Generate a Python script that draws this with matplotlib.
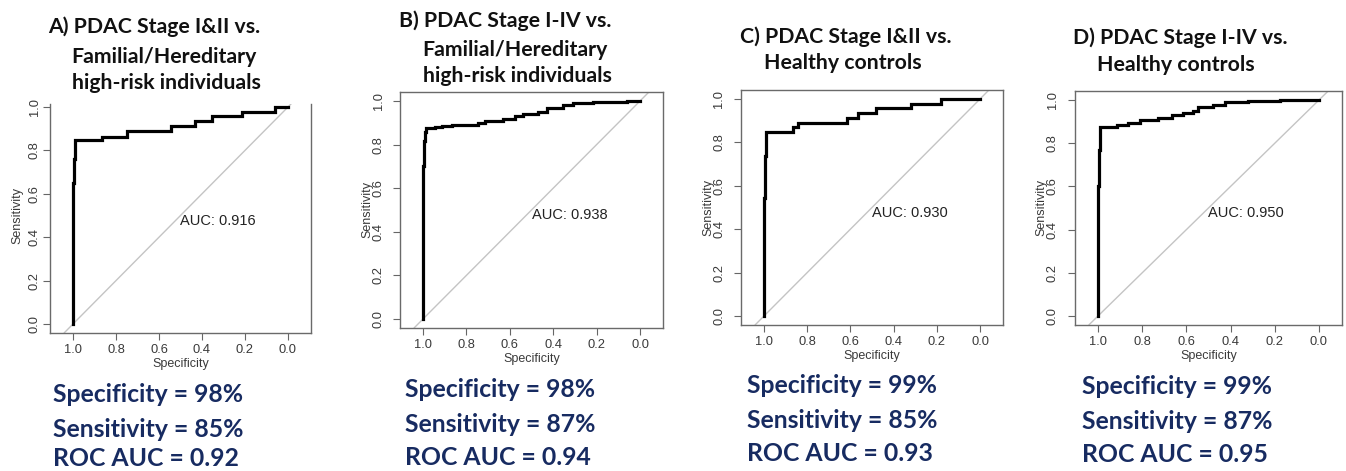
import matplotlib
matplotlib.use("Agg")
import matplotlib.pyplot as plt

# ---------------- data ----------------
titles = [
    ["A) PDAC Stage I&II vs.", "Familial/Hereditary", "high-risk individuals"],
    ["B) PDAC Stage I-IV vs.", "Familial/Hereditary", "high-risk individuals"],
    ["C) PDAC Stage I&II vs.", "Healthy controls"],
    ["D) PDAC Stage I-IV vs.", "Healthy controls"],
]
auc_labels = ["AUC: 0.916", "AUC: 0.938", "AUC: 0.930", "AUC: 0.950"]
summary_specificity = ["98%", "98%", "99%", "99%"]
summary_sensitivity = ["85%", "87%", "85%", "87%"]
summary_auc = ["0.92", "0.94", "0.93", "0.95"]

# ROC step curves: specificity breakpoints and sensitivity levels (steps-pre)
spec_A = [1.0, 0.997, 0.993, 0.867, 0.750, 0.544, 0.433, 0.355, 0.215, 0.060, 0.0]
sens_A = [0.0, 0.652, 0.761, 0.848, 0.864, 0.891, 0.913, 0.935, 0.957, 0.978, 1.0]

spec_B = [1.0, 0.995, 0.990, 0.986, 0.945, 0.914, 0.868, 0.745, 0.714, 0.630,
          0.576, 0.538, 0.469, 0.430, 0.353, 0.307, 0.215, 0.061, 0.0]
sens_B = [0.0, 0.700, 0.815, 0.860, 0.875, 0.879, 0.885, 0.891, 0.900, 0.910,
          0.917, 0.931, 0.940, 0.950, 0.968, 0.983, 0.989, 0.995, 1.0]

spec_C = [1.0, 0.997, 0.993, 0.866, 0.843, 0.614, 0.565, 0.480, 0.318, 0.182, 0.0]
sens_C = [0.0, 0.543, 0.739, 0.848, 0.870, 0.891, 0.913, 0.935, 0.957, 0.978, 1.0]

spec_D = [1.0, 0.997, 0.993, 0.991, 0.916, 0.863, 0.810, 0.727, 0.667, 0.614,
          0.569, 0.546, 0.478, 0.425, 0.320, 0.176, 0.0]
sens_D = [0.0, 0.600, 0.770, 0.869, 0.875, 0.883, 0.894, 0.909, 0.917, 0.932,
          0.940, 0.950, 0.966, 0.978, 0.989, 0.997, 1.0]

curves = [(spec_A, sens_A), (spec_B, sens_B), (spec_C, sens_C), (spec_D, sens_D)]
axis_ticks = [0.0, 0.2, 0.4, 0.6, 0.8, 1.0]
tick_labels = ["0.0", "0.2", "0.4", "0.6", "0.8", "1.0"]

# ---------------- layout ----------------
W, H, DPI = 1346, 471, 100
fig = plt.figure(figsize=(W / DPI, H / DPI), dpi=DPI)
fig.patch.set_facecolor("white")

# pixel positions of spec=1, spec=0, sens=0, sens=1 ; top of y-range ; ytick pad
anchors = [
    (73, 288, 324, 107, 1.014, 2.0),
    (423, 640, 319, 101, 1.04, 6.0),
    (764, 980, 316, 99, 1.04, 6.5),
    (1098, 1319, 316, 100, 1.04, 6.5),
]
title_lines = [
    [(154, 33), (163.5, 63), (166.5, 89)],
    [(505, 27), (514.5, 56), (517, 82)],
    [(846, 43), (842.5, 69)],
    [(1180, 44), (1175.5, 71)],
]
summary_pos = [
    (53, [402, 437, 466]),
    (405, [397, 432, 465]),
    (747, [393, 428, 461]),
    (1082, [394, 429, 462]),
]

TITLE_FONT = "Lato"
TICK_FONT = "Liberation Sans"
NAVY = "#172b61"

for i in range(4):
    x1p, x0p, y0p, y1p, ytop, ypad = anchors[i]
    ux = x0p - x1p
    uy = y0p - y1p
    left = x1p - 0.105 * ux
    right = x0p + 0.105 * ux
    bottom = y0p + 0.04 * uy
    top = y0p - ytop * uy
    ax = fig.add_axes([left / W, 1 - bottom / H, (right - left) / W, (bottom - top) / H])
    ax.set_xlim(1.105, -0.105)
    ax.set_ylim(-0.04, ytop)

    # chance diagonal
    ax.axline((1.0, 0.0), (0.0, 1.0), color="#c4c4c4", lw=1.0, zorder=1)
    # ROC curve
    sx, sy = curves[i]
    ax.plot(sx, sy, drawstyle="steps-pre", color="black", lw=2.3,
            solid_joinstyle="miter", zorder=3)

    ax.text(0.5, 0.475, auc_labels[i], ha="left", va="center",
            fontsize=10.5, family=TICK_FONT, color="#222222")

    ax.set_xticks(axis_ticks)
    ax.set_xticklabels(tick_labels)
    ax.set_yticks(axis_ticks)
    ax.set_yticklabels(tick_labels, rotation=90, va="center")
    ax.tick_params(axis="both", direction="out", length=5, width=0.8,
                   color="#666666", labelcolor="#3a3a3a", labelsize=9.3)
    ax.tick_params(axis="x", pad=3)
    ax.tick_params(axis="y", pad=ypad)
    for lab in ax.get_xticklabels() + ax.get_yticklabels():
        lab.set_family(TICK_FONT)
    for sp in ax.spines.values():
        sp.set_color("#6a6a6a")
        sp.set_linewidth(1.0)
    if i == 0:
        ax.spines["top"].set_visible(False)

    fig.text((x1p + x0p) / 2 / W, 1 - (bottom + 31) / H, "Specificity",
             ha="center", va="center", fontsize=9, family=TICK_FONT, color="#3a3a3a")
    fig.text((left - 33) / W, 1 - ((y0p + y1p) / 2) / H, "Sensitivity",
             ha="center", va="center", rotation=90, fontsize=9,
             family=TICK_FONT, color="#3a3a3a")

    # panel titles
    for line, (cx, by) in zip(titles[i], title_lines[i]):
        fig.text(cx / W, 1 - by / H, line, ha="center", va="baseline",
                 fontsize=15.3, fontweight="bold", family=TITLE_FONT, color="#111111")

    # summary text
    sx0, bys = summary_pos[i]
    lines = [f"Specificity = {summary_specificity[i]}",
             f"Sensitivity = {summary_sensitivity[i]}",
             f"ROC AUC = {summary_auc[i]}"]
    for line, by in zip(lines, bys):
        fig.text(sx0 / W, 1 - by / H, line, ha="left", va="baseline",
                 fontsize=17.8, fontweight="bold", family=TITLE_FONT, color=NAVY)

fig.savefig("out.png", dpi=DPI, facecolor="white")
